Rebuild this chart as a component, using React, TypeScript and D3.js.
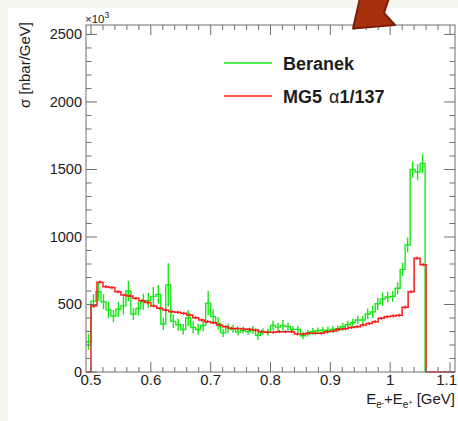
import React from "react";
import * as d3 from "d3";

// ---- data ----
// Green (Beranek): bins of width 1/120 GeV starting at 59/120 GeV
const greenStartBin = 59; // first edge = 59/120
const greenBinsPerGeV = 120;
const greenValues = [
  224,
  525, 595, 520, 460, 415, 465, 490, 600, 430, 470, 520, 530, 560, 575, 356,
  645,
  375, 350, 315, 400, 330, 315, 345,
  510,
  410, 360, 290, 325, 320, 295,
  311, 299, 311, 272, 299, 295, 345, 332, 345, 336, 316, 316, 268, 287, 300, 305, 310,
  310, 315, 320, 335, 350, 365, 385, 385, 430, 445, 505, 540, 555, 560, 620,
  760, 941, 1500, 1480, 1545,
];
const greenErrors = [
  60,
  50, 70, 55, 60, 45, 55, 65, 75, 45, 50, 60, 55, 70, 70, 45,
  160,
  50, 45, 40, 60, 45, 40, 45,
  90,
  55, 45, 30, 35, 30, 25,
  25, 25, 30, 35, 25, 25, 35, 30, 40, 30, 25, 25, 25, 25, 25, 25, 25,
  25, 25, 25, 30, 30, 30, 30, 30, 40, 45, 45, 50, 40, 40, 45,
  50, 55, 60, 60, 70,
];

// Red (MG5 alpha 1/137): bins of width 0.01 GeV from 0.50 to 1.06
const redStart = 0.5;
const redWidth = 0.01;
const redValues = [
  490, 665, 632, 625, 595, 570, 563, 546, 528, 514,
  489, 472, 459, 447, 442, 435, 422, 402, 385, 373,
  365, 348, 336, 323, 323, 318, 316, 311, 299, 294,
  294, 299, 299, 299, 281, 281, 287, 287, 287, 299,
  304, 316, 321, 330, 336, 348, 360, 373, 398, 410,
  415, 420, 480, 595, 843, 795,
];
const redError = 12;

const xTickValues = [0.5, 0.6, 0.7, 0.8, 0.9, 1.0, 1.1];
const xTickLabels = ["0.5", "0.6", "0.7", "0.8", "0.9", "1", "1.1"];
const yTickValues = [0, 500, 1000, 1500, 2000, 2500];
const yTickLabels = ["0", "500", "1000", "1500", "2000", "2500"];
const legendLabels = ["Beranek", "MG5"];

const W = 458;
const H = 421;
const FL = 86, FR = 455, FT = 25, FB = 372;
const FONT = "'Liberation Sans', Arial, Helvetica, sans-serif";
const GREEN = "#19e619";
const RED = "#ff1a1a";
const AXIS = "#6f6f6f";
const TEXT = "#1c1c1c";

export default function App() {
  const x = d3.scaleLinear().domain([59 / 120, 133 / 120]).range([FL, FR]);
  const y = d3.scaleLinear().domain([0, 2570]).range([FB, FT]);
  const line = d3.line<[number, number]>().x((d) => d[0]).y((d) => d[1]);

  // green step
  const gPts: [number, number][] = [];
  greenValues.forEach((v, i) => {
    const e0 = (greenStartBin + i) / greenBinsPerGeV;
    const e1 = (greenStartBin + i + 1) / greenBinsPerGeV;
    gPts.push([x(e0), y(v)]);
    gPts.push([x(e1), y(v)]);
  });
  const gLast = (greenStartBin + greenValues.length) / greenBinsPerGeV;
  gPts.push([x(gLast), y(0)]);

  // red step
  const [dMin, dMax] = x.domain();
  const rPts: [number, number][] = [[x(dMin), y(0)], [x(redStart), y(0)]];
  redValues.forEach((v, i) => {
    rPts.push([x(redStart + i * redWidth), y(v)]);
    rPts.push([x(redStart + (i + 1) * redWidth), y(v)]);
  });
  const rEnd = redStart + redValues.length * redWidth;
  rPts.push([x(rEnd), y(0)]);
  rPts.push([x(dMax), y(0)]);

  const xMinor = d3.range(0, 31).map((i) => 0.5 + i * 0.02).filter((v) => v <= dMax);
  const yMinor = d3.range(0, 26).map((i) => i * 100);

  return (
    <svg
      width={W}
      height={H}
      style={{ position: "absolute", left: 0, top: 0, background: "#f3f6ec" }}
      fontFamily={FONT}
    >
      <defs>
        <clipPath id="frameClip">
          <rect x={FL} y={FT} width={FR - FL} height={FB - FT + 1} />
        </clipPath>
      </defs>
      <rect x={0} y={0} width={W} height={H} fill="#f3f6ec" />
      <rect x={8} y={8} width={W - 8} height={H - 8} fill="#ffffff" />

      {/* histograms */}
      <g clipPath="url(#frameClip)">
        <path d={line(gPts) || ""} fill="none" stroke={GREEN} strokeWidth={1.4} />
        {greenValues.map((v, i) => {
          const c = (greenStartBin + i + 0.5) / greenBinsPerGeV;
          return (
            <line
              key={"ge" + i}
              x1={x(c)}
              x2={x(c)}
              y1={y(v - greenErrors[i])}
              y2={y(v + greenErrors[i])}
              stroke={GREEN}
              strokeWidth={1.4}
            />
          );
        })}
        <path d={line(rPts) || ""} fill="none" stroke={RED} strokeWidth={1.5} />
        {redValues.map((v, i) => {
          const c = redStart + (i + 0.5) * redWidth;
          return (
            <line
              key={"re" + i}
              x1={x(c)}
              x2={x(c)}
              y1={y(v - redError)}
              y2={y(v + redError)}
              stroke={RED}
              strokeWidth={1.2}
            />
          );
        })}
      </g>

      {/* frame */}
      <rect x={FL} y={FT} width={FR - FL} height={FB - FT} fill="none" stroke={AXIS} strokeWidth={1} />

      {/* x ticks */}
      {xMinor.map((v, i) => {
        const major = xTickValues.some((t) => Math.abs(t - v) < 1e-6);
        const len = major ? 10 : 5;
        return (
          <g key={"xt" + i} stroke={AXIS} strokeWidth={1}>
            <line x1={x(v)} x2={x(v)} y1={FB} y2={FB - len} />
            <line x1={x(v)} x2={x(v)} y1={FT} y2={FT + len} />
          </g>
        );
      })}
      {/* y ticks */}
      {yMinor.map((v, i) => {
        const major = yTickValues.includes(v);
        const len = major ? 11 : 5.5;
        return (
          <g key={"yt" + i} stroke={AXIS} strokeWidth={1}>
            <line x1={FL} x2={FL + len} y1={y(v)} y2={y(v)} />
            <line x1={FR} x2={FR - len} y1={y(v)} y2={y(v)} />
          </g>
        );
      })}

      {/* tick labels */}
      {yTickValues.map((v, i) => (
        <text
          key={"yl" + i}
          x={82}
          y={y(v) + 5}
          textAnchor="end"
          fontSize={14.5}
          fill={TEXT}
        >
          {yTickLabels[i]}
        </text>
      ))}
      {xTickValues.map((v, i) => {
        const last = i === xTickValues.length - 1;
        return (
          <text
            key={"xl" + i}
            x={last ? W - 1 : x(v)}
            y={385}
            textAnchor={last ? "end" : "middle"}
            fontSize={15}
            fill={TEXT}
          >
            {xTickLabels[i]}
          </text>
        );
      })}

      {/* exponent */}
      <text x={85} y={23} fontSize={11.5} fill={TEXT}>
        ×10<tspan dy={-5} fontSize={8.5}>3</tspan>
      </text>

      {/* axis titles */}
      <text
        transform={`translate(30,22) rotate(-90)`}
        textAnchor="end"
        fontSize={15}
        fill={TEXT}
      >
        σ [nbar/GeV]
      </text>
      <text x={455} y={404} textAnchor="end" fontSize={15} fill={TEXT}>
        E<tspan dy={4} fontSize={10}>e</tspan>
        <tspan dy={-3} fontSize={7}>-</tspan>
        <tspan dy={-1} fontSize={15}>+E</tspan>
        <tspan dy={4} fontSize={10}>e</tspan>
        <tspan dy={-3} fontSize={7}>+</tspan>
        <tspan dy={-1} fontSize={15}> [GeV]</tspan>
      </text>

      {/* legend */}
      <line x1={224} x2={272} y1={63} y2={63} stroke={GREEN} strokeWidth={1.5} />
      <text x={283} y={69.5} fontSize={18} fontWeight="bold" fill={TEXT}>
        {legendLabels[0]}
      </text>
      <line x1={224} x2={272} y1={96} y2={96} stroke={RED} strokeWidth={1.5} />
      <text x={283} y={102.5} fontSize={18} fill={TEXT}>
        <tspan fontWeight="bold">{legendLabels[1]}</tspan>
        <tspan dx={7}>α</tspan>
        <tspan fontWeight="bold">1/137</tspan>
      </text>

      {/* decorative slide arrow */}
      <path
        d="M360,-2 L353,28.5 L395,25 L384,13 L389,-2 Z"
        fill="#a9300f"
        stroke="#7c1f08"
        strokeWidth={2}
        strokeLinejoin="round"
      />
    </svg>
  );
}
